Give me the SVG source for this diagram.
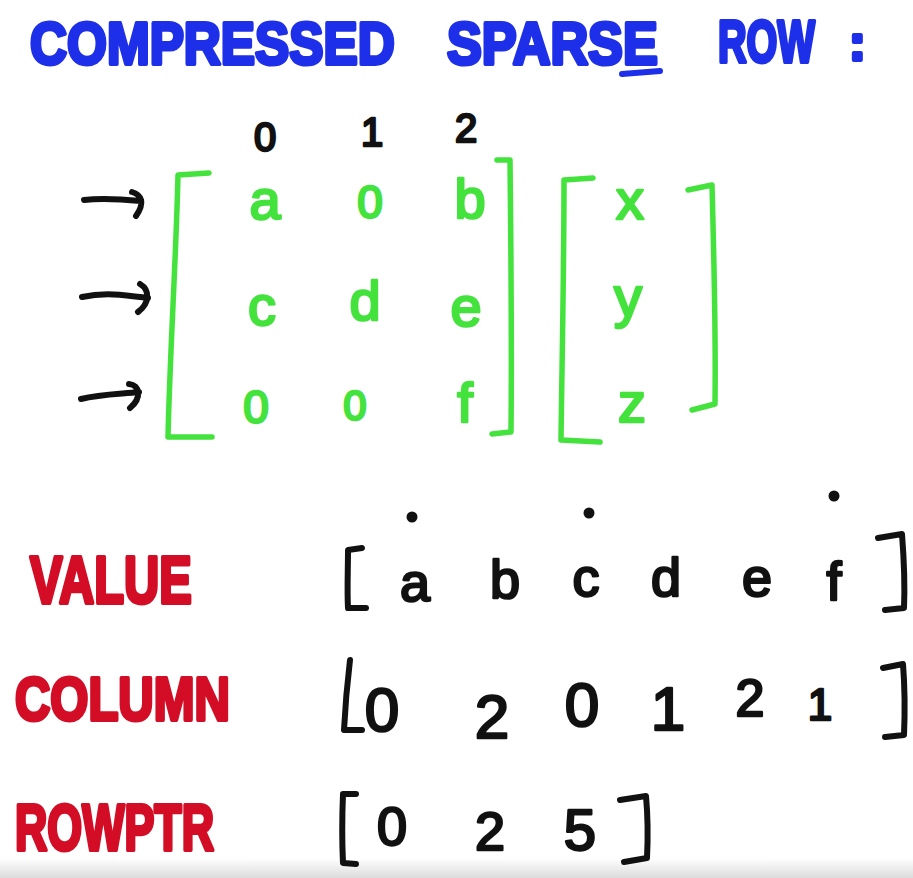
<svg xmlns="http://www.w3.org/2000/svg" width="913" height="878" viewBox="0 0 913 878">
<defs>
<linearGradient id="bot" x1="0" y1="0" x2="0" y2="1">
<stop offset="0" stop-color="#ffffff"/>
<stop offset="1" stop-color="#dcdcdc"/>
</linearGradient>
</defs>
<style>
text{font-family:"Liberation Sans","DejaVu Sans",sans-serif;font-weight:bold;stroke-linejoin:round;stroke-linecap:round}
.blue{fill:#1d2fe8;stroke:#1d2fe8;stroke-width:4}
.red{fill:#d30d25;stroke:#d30d25;stroke-width:4}
.grn{fill:#44e23c;stroke:#44e23c;stroke-width:2.5;font-weight:normal}
.blk{fill:#111;stroke:#111;stroke-width:2.5;font-weight:normal}
.gline{fill:none;stroke:#44e23c;stroke-width:5.5;stroke-linecap:round;stroke-linejoin:round}
.kline{fill:none;stroke:#111;stroke-width:6;stroke-linecap:round;stroke-linejoin:round}
.mid{text-anchor:middle}
</style>
<rect width="913" height="878" fill="#ffffff"/>
<rect x="0" y="858" width="913" height="20" fill="url(#bot)"/>

<g id="title">
<text class="blue" transform="translate(30 64) scale(0.855 1)" font-size="60">COMPRESSED</text>
<text class="blue" transform="translate(447 64) scale(0.87 1)" font-size="60">SPARSE</text>
<path d="M622 74 L660 71" fill="none" stroke="#1d2fe8" stroke-width="6" stroke-linecap="round"/>
<text class="blue" transform="translate(718 62) scale(0.66 1)" font-size="60">ROW</text>
<text class="blue" x="849" y="60" font-size="50">:</text>
</g>

<g id="column-indices">
<text class="blk mid" x="265" y="151" font-size="40">0</text>
<text class="blk mid" x="372" y="146" font-size="40">1</text>
<text class="blk mid" x="466" y="142" font-size="40">2</text>
</g>

<g id="row-arrows">
<path class="kline" d="M84 200 C100 198 120 199 141 201 M132 192 C142 195 145 203 136 216"/>
<path class="kline" d="M82 297 C105 292 125 295 148 298 M140 284 C150 290 150 303 138 312"/>
<path class="kline" d="M81 399 C100 394 120 394 139 392 M129 384 C140 385 142 398 130 408"/>
</g>

<g id="matrix">
<path class="gline" d="M209 173 L178 175 C176 260 170 350 168 437 L212 437"/>
<path class="gline" d="M497 160 L510 160 C511 250 512 340 511 432 L492 434"/>
<text class="grn mid" x="265" y="219" font-size="56">a</text>
<text class="grn mid" x="370" y="218" font-size="46">0</text>
<text class="grn mid" x="470" y="218" font-size="56">b</text>
<text class="grn mid" x="262" y="325" font-size="56">c</text>
<text class="grn mid" x="365" y="320" font-size="56">d</text>
<text class="grn mid" x="466" y="326" font-size="56">e</text>
<text class="grn mid" x="256" y="423" font-size="46">0</text>
<text class="grn mid" x="355" y="420" font-size="42">0</text>
<text class="grn mid" x="465" y="422" font-size="56">f</text>
</g>

<g id="vector">
<path class="gline" d="M593 178 L564 180 C564 270 562 360 561 440 L600 442"/>
<path class="gline" d="M688 190 L712 185 C714 260 716 330 715 404 L692 410"/>
<text class="grn mid" x="630" y="219" font-size="56">x</text>
<text class="grn mid" x="628" y="316" font-size="56">y</text>
<text class="grn mid" x="632" y="422" font-size="56">z</text>
</g>

<g id="value-row">
<text class="red" transform="translate(30 603) scale(0.74 1)" font-size="66">VALUE</text>
<path class="kline" d="M362 548 L348 550 C348 570 347 590 348 608 L366 608"/>
<path class="kline" d="M878 538 L902 534 C904 560 905 585 904 608 L885 610"/>
<circle cx="412" cy="517" r="5.5" fill="#111"/>
<circle cx="589" cy="513" r="5.5" fill="#111"/>
<circle cx="834" cy="496" r="5.5" fill="#111"/>
<text class="blk mid" x="415" y="601" font-size="54">a</text>
<text class="blk mid" x="505" y="598" font-size="54">b</text>
<text class="blk mid" x="586" y="596" font-size="54">c</text>
<text class="blk mid" x="666" y="596" font-size="54">d</text>
<text class="blk mid" x="757" y="596" font-size="54">e</text>
<text class="blk mid" x="834" y="600" font-size="54">f</text>
</g>

<g id="column-row">
<text class="red" transform="translate(15 720) scale(0.79 1)" font-size="62">COLUMN</text>
<path class="kline" d="M350 660 C347 685 345 710 344 730 L362 730"/>
<path class="kline" d="M883 668 L903 664 C905 690 905 712 904 735 L885 737"/>
<text class="blk mid" x="382" y="731" font-size="62">0</text>
<text class="blk mid" x="492" y="738" font-size="62">2</text>
<text class="blk mid" x="582" y="726" font-size="62">0</text>
<text class="blk mid" x="668" y="730" font-size="62">1</text>
<text class="blk mid" x="750" y="716" font-size="52">2</text>
<text class="blk mid" x="820" y="720" font-size="44">1</text>
</g>

<g id="rowptr-row">
<text class="red" transform="translate(15 850) scale(0.70 1)" font-size="64">ROWPTR</text>
<path class="kline" d="M356 794 L343 794 C342 818 342 842 343 863 L356 864"/>
<path class="kline" d="M620 800 L646 796 C648 818 648 838 647 858 L624 862"/>
<text class="blk mid" x="392" y="845" font-size="54">0</text>
<text class="blk mid" x="490" y="850" font-size="54">2</text>
<text class="blk mid" x="580" y="850" font-size="58">5</text>
</g>
</svg>
